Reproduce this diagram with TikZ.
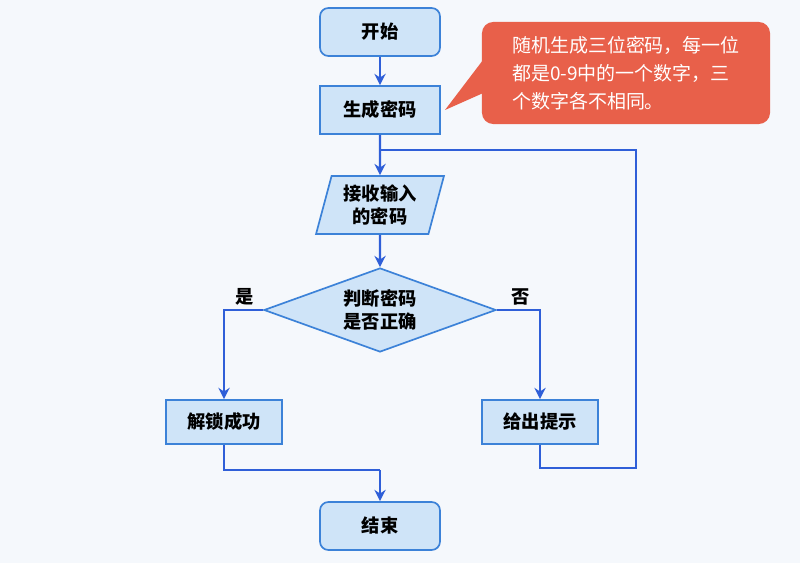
\documentclass[tikz,border=0pt]{standalone}
\usepackage{fontspec}
\newfontfamily\cjk{Noto Sans CJK SC}
\usetikzlibrary{shapes.geometric, arrows.meta, calc}
\definecolor{flowblue}{HTML}{2F5FD8}
\definecolor{boxfill}{HTML}{CFE4F8}
\definecolor{boxline}{HTML}{3C82D8}
\definecolor{bgcol}{HTML}{F5F8FC}
\definecolor{notered}{HTML}{E8604A}
\tikzset{
    my-box/.style={
      draw=boxline, fill=boxfill, line width=1.2pt, minimum width=3cm, minimum height=1.2cm,
      font=\cjk\bfseries\fontsize{13}{16}\selectfont
    },
    my-start/.style={
      my-box, rounded corners=6pt
    },
    my-io/.style={
      my-box, trapezium, trapezium left angle=75, trapezium right angle=105,
      minimum width=2.6cm, minimum height=1.45cm, align=center
    },
    my-decision/.style={
      my-box, diamond, aspect=2.8, inner sep=1pt, minimum width=5.8cm, minimum height=2.1cm, align=center
    },
    my-flow/.style={
      draw=flowblue, line width=1.6pt, -{Stealth[length=8pt,width=8pt]}
    },
    my-line/.style={
      draw=flowblue, line width=1.6pt
    },
}
\begin{document}
\begin{tikzpicture}[x=0.025cm, y=-0.025cm]

        % BACKGROUND
        \fill[bgcol] (0,0) rectangle (800,563);

        % NODES
        \node[my-start]    (START)  at (380,32)  {开始};
        \node[my-box]      (GEN)    at (380,110) {生成密码};
        \node[my-io]       (INPUT)  at (380,205) {接收输入\\的密码};
        \node[my-decision] (CHECK)  at (380,310) {判断密码\\是否正确};
        \node[my-box, minimum width=2.9cm, minimum height=1.1cm] (OPEN) at (224,422) {解锁成功};
        \node[my-box, minimum width=2.9cm, minimum height=1.1cm] (HINT) at (540,422) {给出提示};
        \node[my-start]    (STOP)   at (380,526) {结束};

        % NOTE
        \fill[notered] (483,60) -- (445,110) -- (490,90) -- cycle;
        \node[fill=notered, rounded corners=8pt, text=white, minimum width=7.2cm, minimum height=2.55cm,
              align=left, font=\cjk\fontsize{13.5}{20}\selectfont]
              (NOTE) at (626,73) {随机生成三位密码，每一位\\都是0-9中的一个数字，三\\个数字各不相同。};

        % LABELS
        \node[font=\cjk\bfseries\fontsize{13}{16}\selectfont] (YES) at (245,297) {是};
        \node[font=\cjk\bfseries\fontsize{13}{16}\selectfont] (NO)  at (521,297) {否};

        % CONNECTIONS
        \coordinate (LOOP) at (380,150);
        \coordinate (JOIN) at (380,470);
        \draw[my-flow] (START) -- (GEN);
        \draw[my-flow] (GEN) -- (INPUT);
        \draw[my-flow] (INPUT) -- (CHECK);
        \draw[my-flow] (CHECK.west) -| (OPEN.north);
        \draw[my-flow] (CHECK.east) -| (HINT.north);
        \draw[my-line] (HINT.south) |- (636,468) -- (636,150) -- (LOOP);
        \draw[my-line] (OPEN.south) |- (JOIN);
        \draw[my-flow] (JOIN) -- (STOP);

    \end{tikzpicture}
\end{document}
